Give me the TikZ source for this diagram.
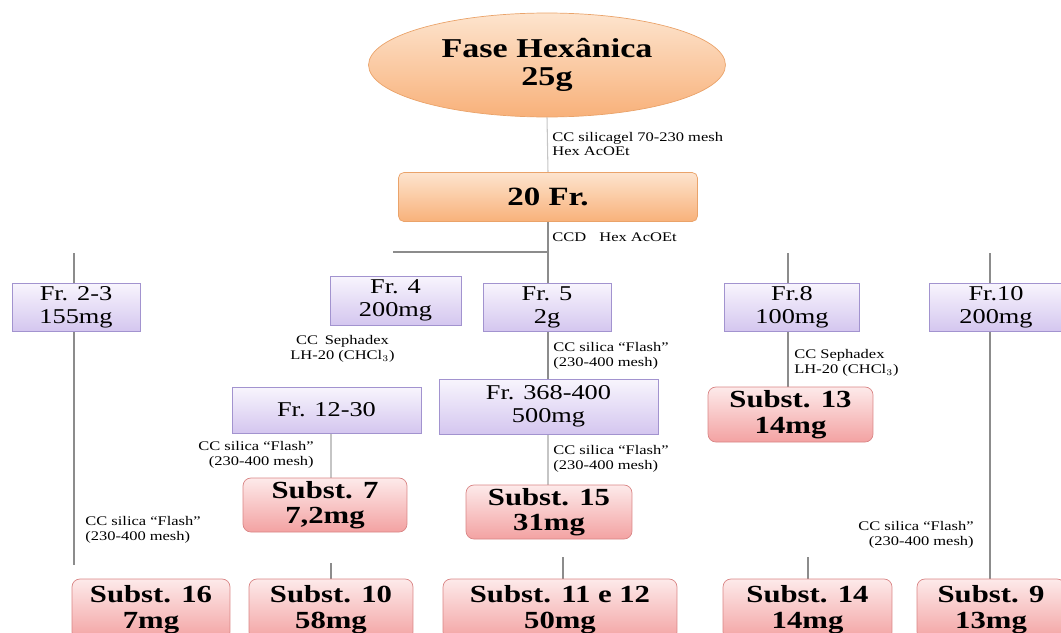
\documentclass[tikz,border=0pt]{standalone}
\usepackage{fontspec}
\setmainfont{Liberation Serif}[FakeStretch=1.25]
\usepackage{tikz}
\usetikzlibrary{positioning}
\usetikzlibrary{shapes.geometric}
\usetikzlibrary{backgrounds}

\definecolor{orTop}{HTML}{FDE4CE}
\definecolor{orBot}{HTML}{F8B17A}
\definecolor{orLine}{HTML}{EAA36A}
\definecolor{puTop}{HTML}{F8F5FD}
\definecolor{puBot}{HTML}{D4C6EF}
\definecolor{puLine}{HTML}{A293CF}
\definecolor{piTop}{HTML}{FDEAEA}
\definecolor{piBot}{HTML}{F3A2A2}
\definecolor{piLine}{HTML}{D98585}
\definecolor{linkgray}{HTML}{8C8C8C}

\begin{document}
\begin{tikzpicture}[x=0.02cm,y=-0.02cm,
  phase/.style={ellipse,draw=orLine,top color=orTop,bottom color=orBot,
    inner sep=0pt,align=center,font=\bfseries\fontsize{15.5}{16}\selectfont},
  fracbig/.style={rectangle,rounded corners=3pt,draw=orLine,top color=orTop,
    bottom color=orBot,align=center,font=\bfseries\fontsize{15}{16}\selectfont},
  frac/.style={rectangle,draw=puLine,top color=puTop,bottom color=puBot,
    align=center,inner sep=0pt,font=\fontsize{12}{13}\selectfont},
  subst/.style={rectangle,rounded corners=4.5pt,draw=piLine,top color=piTop,
    bottom color=piBot,align=center,inner sep=0pt,
    font=\bfseries\fontsize{14}{14.5}\selectfont},
  method/.style={inner sep=0pt,font=\fontsize{7.5}{8.2}\selectfont},
  link/.style={draw=linkgray,line width=0.7pt},
  faint/.style={draw=linkgray!50,line width=0.6pt}]

  \clip (0,0) rectangle (1061,632);

  % Starting phase
  \node[phase,minimum width=7.14cm,minimum height=2.08cm] (hex) at (547,65)
    {Fase Hexânica\\25g};
  \node[fracbig,minimum width=5.98cm,minimum height=0.98cm] (fr20) at (548,197)
    {20 Fr.};

  % Fractions
  \node[frac,minimum width=2.56cm,minimum height=0.96cm] (fr23) at (76,307)
    {Fr. 2-3\\155mg};
  \node[frac,minimum width=2.62cm,minimum height=0.98cm] (fr4) at (395.5,300.5)
    {Fr. 4\\200mg};
  \node[frac,minimum width=2.56cm,minimum height=0.96cm] (fr5) at (547,307)
    {Fr. 5\\2g};
  \node[frac,minimum width=2.7cm,minimum height=0.96cm] (fr8) at (792,307)
    {Fr.8\\100mg};
  \node[frac,minimum width=2.68cm,minimum height=0.96cm] (fr10) at (996,307)
    {Fr.10\\200mg};
  \node[frac,minimum width=3.78cm,minimum height=0.92cm] (fr1230) at (326.5,410)
    {Fr. 12-30};
  \node[frac,minimum width=4.38cm,minimum height=1.1cm] (fr368) at (548.5,406.5)
    {Fr. 368-400\\500mg};

  % Substances
  \node[subst,minimum width=3.3cm,minimum height=1.1cm] (s13) at (790.5,414.5)
    {Subst. 13\\14mg};
  \node[subst,minimum width=3.28cm,minimum height=1.08cm] (s7) at (325,505)
    {Subst. 7\\7,2mg};
  \node[subst,minimum width=3.32cm,minimum height=1.08cm] (s15) at (549,512)
    {Subst. 15\\31mg};
  \node[subst,minimum width=3.16cm,minimum height=1.22cm] (s16) at (151,609.5)
    {Subst. 16\\7mg};
  \node[subst,minimum width=3.28cm,minimum height=1.22cm] (s10) at (331,609.5)
    {Subst. 10\\58mg};
  \node[subst,minimum width=4.68cm,minimum height=1.22cm] (s1112) at (560,609.5)
    {Subst. 11 e 12\\50mg};
  \node[subst,minimum width=3.38cm,minimum height=1.22cm] (s14) at (807.5,609.5)
    {Subst. 14\\14mg};
  \node[subst,minimum width=2.96cm,minimum height=1.22cm] (s9) at (991,609.5)
    {Subst. 9\\13mg};

  % Methods
  \node[method,anchor=west,align=left] (m1) at (552,144)
    {CC silicagel 70-230 mesh\\Hex AcOEt};
  \node[method,anchor=west] (m2) at (552,237) {CCD\quad Hex AcOEt};
  \node[method,anchor=east,align=center] (m4) at (395,349)
    {CC\enspace Sephadex\\LH-20 (CHCl$_3$)};
  \node[method,anchor=west,align=left] (m5) at (553,356)
    {CC silica ``Flash''\\(230-400 mesh)};
  \node[method,anchor=west,align=left] (m8) at (794,363)
    {CC Sephadex\\LH-20 (CHCl$_3$)};
  \node[method,anchor=east,align=right] (m7) at (314,455)
    {CC silica ``Flash''\\(230-400 mesh)};
  \node[method,anchor=west,align=left] (m15) at (553,459)
    {CC silica ``Flash''\\(230-400 mesh)};
  \node[method,anchor=west,align=left] (m16) at (85,530)
    {CC silica ``Flash''\\(230-400 mesh)};
  \node[method,anchor=east,align=right] (m9) at (974,535)
    {CC silica ``Flash''\\(230-400 mesh)};

  % Branch points
  \coordinate (br) at (548,252);
  \coordinate (b4) at (393,252);
  \coordinate (t23) at (74,253);
  \coordinate (e23) at (74,565);
  \coordinate (t8) at (788,253);
  \coordinate (t10) at (990,253);
  \coordinate (k10) at (331,563);
  \coordinate (k1112) at (563,557);
  \coordinate (k14) at (808,557);

  \begin{scope}[on background layer]
    \draw[faint] (hex.south) -- (fr20.north);
    \draw[link] (fr20.south) -- (br) -- (br |- fr5.north);
    \draw[link] (br) -- (b4);
    \draw[link] (t23) -- (e23);
    \draw[link] (t8) -- (t8 |- s13.north);
    \draw[link] (t10) -- (t10 |- s9.north);
    \draw[link] (fr5.south -| br) -- (fr368.north -| br);
    \draw[faint] (fr368.south -| br) -- (s15.north -| br);
    \draw[faint] (fr1230.south -| k10) -- (s7.north -| k10);
    \draw[link] (k10) -- (k10 |- s10.north);
    \draw[link] (k1112) -- (k1112 |- s1112.north);
    \draw[link] (k14) -- (k14 |- s14.north);
  \end{scope}
\end{tikzpicture}
\end{document}
